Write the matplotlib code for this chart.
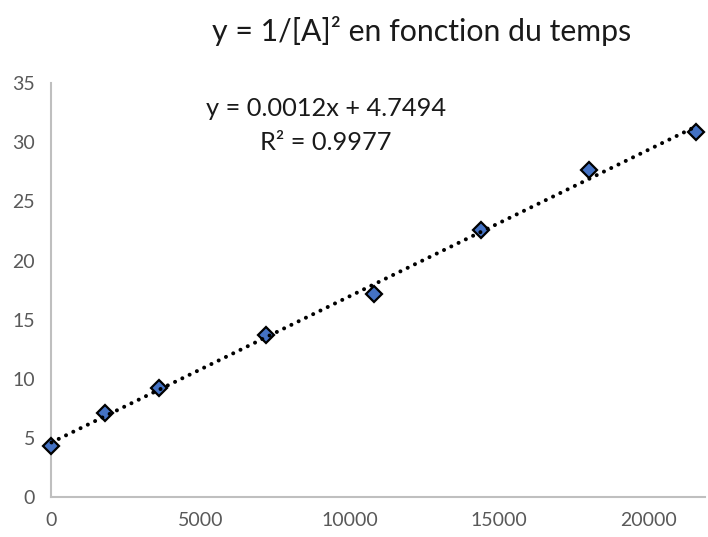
import numpy as np
import matplotlib
matplotlib.use("Agg")
import matplotlib.pyplot as plt

plt.rcParams['font.family'] = ['Lato', 'DejaVu Sans']

# temps (s) et 1/[A]^2
temps = [0, 1800, 3600, 7200, 10800, 14400, 18000, 21600]
inv_a2 = [4.3, 7.1, 9.2, 13.7, 17.2, 22.6, 27.7, 30.85]
yticks = [0, 5, 10, 15, 20, 25, 30, 35]
xticks = [0, 5000, 10000, 15000, 20000]

title = "y = 1/[A]² en fonction du temps"
eq_line = "y = 0.0012x + 4.7494"
r2_line = "R² = 0.9977"

grey = "#595959"
axis_grey = "#BFBFBF"

fig = plt.figure(figsize=(7.08, 5.37), dpi=100)
ax = fig.add_axes([0.0727, 0.075, 0.923, 0.7697])

# tendance linéaire
x = np.array(temps, dtype=float)
y = np.array(inv_a2)
a, b = np.polyfit(x, y, 1)
xt = np.array([x.min(), x.max()])
ax.plot(x, y, linestyle='none', marker='D', markersize=8,
        markerfacecolor='#4472C4', markeredgecolor='black',
        markeredgewidth=1.6, zorder=3, clip_on=False)
ax.plot(xt, a * xt + b, color='black', linewidth=2.9,
        linestyle=(0, (0.01, 2.0)), dash_capstyle='round', zorder=4,
        clip_on=False)

ax.set_xlim(0, 21900)
ax.set_ylim(0, 35)
ax.set_xticks(xticks)
ax.set_yticks(yticks)
ax.tick_params(length=0, labelsize=14, colors=grey)
ax.tick_params(axis='y', pad=12)
ax.tick_params(axis='x', pad=11)

for s in ['top', 'right']:
    ax.spines[s].set_visible(False)
for s in ['left', 'bottom']:
    ax.spines[s].set_color(axis_grey)
    ax.spines[s].set_linewidth(1.5)

fig.text(422 / 708, 1 - 31 / 537, title, ha='center', va='center',
         fontsize=21.8, color='#1a1a1a')
fig.text(326 / 708, 1 - 108 / 537, eq_line, ha='center', va='center',
         fontsize=18.3, color='#1a1a1a')
fig.text(326 / 708, 1 - 143 / 537, r2_line, ha='center', va='center',
         fontsize=18.3, color='#1a1a1a')

fig.savefig('out.png', dpi=100)
